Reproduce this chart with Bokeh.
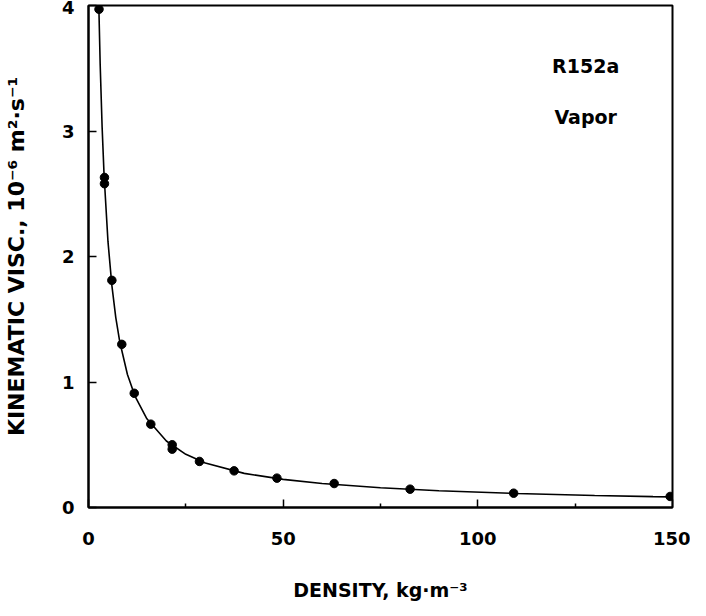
from bokeh.plotting import figure
from bokeh.models import Range1d, FixedTicker, Label
from bokeh.embed import file_html
from bokeh.resources import INLINE

# measured points: density (kg/m3) vs kinematic viscosity (1e-6 m2/s)
pt_density = [2.7, 4.1, 4.1, 6.0, 8.55, 11.75, 16.0, 21.5, 21.5, 28.5, 37.4, 48.4, 63.1, 82.6, 109.2, 149.4]
pt_visc = [3.97, 2.63, 2.58, 1.81, 1.30, 0.91, 0.664, 0.50, 0.465, 0.367, 0.292, 0.234, 0.191, 0.146, 0.114, 0.088]

# correlation curve
curve_density = [2.65, 3, 3.5, 4, 5, 6, 7, 8, 10, 12, 15, 20, 25, 30, 40, 50, 60, 75, 90, 110, 130, 145, 150]
curve_visc = [4.0, 3.53, 3.03, 2.65, 2.12, 1.77, 1.515, 1.325, 1.06, 0.883, 0.707, 0.53, 0.424, 0.355,
              0.272, 0.224, 0.191, 0.157, 0.133, 0.112, 0.096, 0.087, 0.085]

x_ticks = [0, 50, 100, 150]
x_minor = [25, 75, 125]
y_ticks = [0, 1, 2, 3, 4]

FONT = "DejaVu Sans"

p = figure(width=690, height=606, output_backend="svg", toolbar_location=None,
           x_range=Range1d(0, 150), y_range=Range1d(0, 4),
           min_border_left=79, min_border_top=5, min_border_right=18, min_border_bottom=99)
p.background_fill_color = "white"
p.border_fill_color = "white"
p.grid.visible = False
p.outline_line_color = "black"
p.outline_line_width = 2

p.line(curve_density, curve_visc, line_color="black", line_width=1.6)
p.scatter(pt_density, pt_visc, size=8.5, color="black")

p.xaxis.ticker = FixedTicker(ticks=x_ticks, minor_ticks=x_minor)
p.yaxis.ticker = FixedTicker(ticks=y_ticks)

for ax in (p.xaxis[0], p.yaxis[0]):
    ax.axis_line_color = "black"
    ax.axis_line_width = 2
    ax.major_tick_in = 8
    ax.major_tick_out = 0
    ax.minor_tick_in = 4
    ax.minor_tick_out = 0
    ax.major_tick_line_width = 1.5
    ax.minor_tick_line_width = 1.5
    ax.major_label_text_font = FONT
    ax.major_label_text_font_style = "bold"
    ax.major_label_text_font_size = "18px"
    ax.major_label_text_color = "black"
    ax.axis_label_text_font = FONT
    ax.axis_label_text_font_style = "bold"
    ax.axis_label_text_color = "black"

p.xaxis.major_label_standoff = 24
p.yaxis.major_label_standoff = 14
p.yaxis.major_label_text_baseline = "hanging"

p.xaxis.axis_label = "DENSITY, kg·m⁻³"
p.xaxis.axis_label_text_font_size = "19px"
p.xaxis.axis_label_standoff = 31

p.yaxis.axis_label = "KINEMATIC VISC., 10⁻⁶ m²·s⁻¹"
p.yaxis.axis_label_text_font_size = "22px"
p.yaxis.axis_label_standoff = 30

for txt, yv in (("R152a", 3.52), ("Vapor", 3.11)):
    p.add_layout(Label(x=127.7, y=yv, text=txt, text_align="center", text_baseline="middle",
                       text_font=FONT, text_font_style="bold", text_font_size="19px",
                       text_color="black"))

open("out.html", "w").write(file_html(p, INLINE))
